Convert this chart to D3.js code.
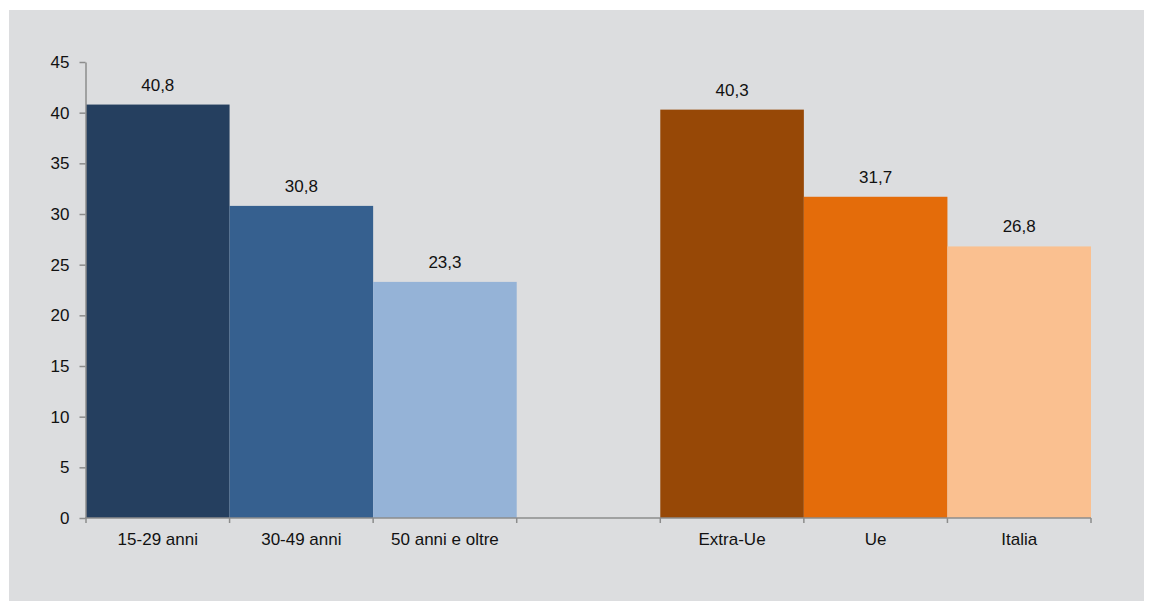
<!DOCTYPE html>
<html><head><meta charset="utf-8">
<script src="https://cdn.jsdelivr.net/npm/d3@7"></script>
<style>body{margin:0;background:#fff;} text{font-family:"Liberation Sans",Arial,sans-serif;}</style>
</head><body>
<svg id="c" width="1149" height="601"></svg>
<script>
const categories = ["15-29 anni","30-49 anni","50 anni e oltre","","Extra-Ue","Ue","Italia"];
const values = [40.8, 30.8, 23.3, null, 40.3, 31.7, 26.8];
const labels = ["40,8","30,8","23,3","","40,3","31,7","26,8"];
const colors = ["#253f5f","#36608f","#95b3d7","none","#974806","#e46c0a","#fac090"];
const yTicks = [0,5,10,15,20,25,30,35,40,45];

const svg = d3.select("#c");
svg.append("rect").attr("x",9).attr("y",10).attr("width",1135).attr("height",591).attr("fill","#dcdddf");

const x = d3.scaleBand().domain(d3.range(categories.length)).range([86,1091]).padding(0);
const y = d3.scaleLinear().domain([0,45]).range([518,62]);

const data = categories.map((c,i)=>({c, v:values[i], l:labels[i], col:colors[i], i}));

svg.selectAll("rect.bar").data(data.filter(d=>d.v!=null)).enter().append("rect")
  .attr("class","bar")
  .attr("x",d=>x(d.i)).attr("width",x.bandwidth())
  .attr("y",d=>y(d.v)).attr("height",d=>y(0)-y(d.v))
  .attr("fill",d=>d.col);

svg.selectAll("text.lbl").data(data.filter(d=>d.v!=null)).enter().append("text")
  .attr("class","lbl")
  .attr("x",d=>x(d.i)+x.bandwidth()/2).attr("y",d=>y(d.v)-14)
  .attr("text-anchor","middle").attr("font-size",17).attr("fill","#111")
  .text(d=>d.l);

// y axis
const ya = svg.append("g").attr("transform","translate(85.5,0)")
  .call(d3.axisLeft(y).tickValues(yTicks).tickSize(6).tickSizeOuter(0).tickFormat(d=>d));
ya.select(".domain").attr("stroke","#8c8c8c").attr("stroke-width",1.5);
ya.selectAll(".tick line").attr("stroke","#8c8c8c").attr("stroke-width",1.5);
ya.selectAll(".tick text").attr("font-size",17).attr("fill","#111").attr("x",-16)
  .attr("font-family","Liberation Sans, Arial, sans-serif");

// x axis
const xa = svg.append("g").attr("transform","translate(0,518)");
xa.append("line").attr("x1",85).attr("x2",1091).attr("y1",0).attr("y2",0)
  .attr("stroke","#8c8c8c").attr("stroke-width",1.5);
const bounds = d3.range(categories.length+1).map(i=> i<categories.length ? x(i) : x(categories.length-1)+x.bandwidth());
xa.selectAll("line.t").data(bounds).enter().append("line").attr("class","t")
  .attr("x1",d=>d).attr("x2",d=>d).attr("y1",0).attr("y2",5)
  .attr("stroke","#8c8c8c").attr("stroke-width",1.5);
xa.selectAll("text").data(data.filter(d=>d.c)).enter().append("text")
  .attr("x",d=>x(d.i)+x.bandwidth()/2).attr("y",27)
  .attr("text-anchor","middle").attr("font-size",17).attr("fill","#111")
  .text(d=>d.c);
</script>
</body></html>
